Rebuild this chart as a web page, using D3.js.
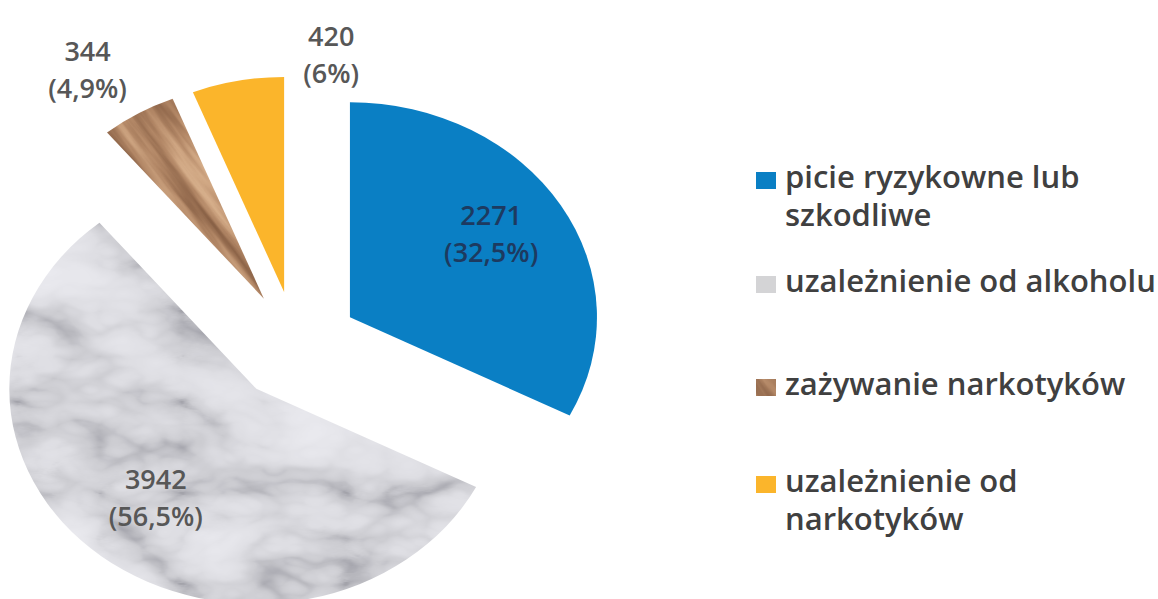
<!DOCTYPE html>
<html>
<head>
<meta charset="utf-8">
<script src="https://d3js.org/d3.v7.min.js"></script>
<style>
  body { margin: 0; background: #fff; }
  svg { display: block; }
  text { font-family: "Open Sans", "DejaVu Sans", sans-serif; }
</style>
</head>
<body>
<div id="chart"></div>
<script>
// data
var categories = ["picie ryzykowne lub szkodliwe", "uzależnienie od alkoholu", "zażywanie narkotyków", "uzależnienie od narkotyków"];
var values = [2271, 3942, 344, 420];
var pctLabels = ["32,5%", "56,5%", "4,9%", "6%"];
var legendLines = [["picie ryzykowne lub", "szkodliwe"], ["uzależnienie od alkoholu"], ["zażywanie narkotyków"], ["uzależnienie od", "narkotyków"]];

var width = 1158, height = 599;
var cx = 296, cy = 346, R = 215, sx = 1.149, explode = 55;

var svg = d3.select("#chart").append("svg")
  .attr("width", width)
  .attr("height", height);

var defs = svg.append("defs");

// marble texture
var mf = defs.append("filter").attr("id", "marbleF")
  .attr("x", 0).attr("y", 0).attr("width", 1).attr("height", 1)
  .attr("color-interpolation-filters", "sRGB");
mf.append("feTurbulence").attr("type", "turbulence")
  .attr("baseFrequency", "0.007 0.011").attr("numOctaves", 4).attr("seed", 7);
mf.append("feColorMatrix").attr("type", "matrix")
  .attr("values", "1 0 0 0 0  1 0 0 0 0  1 0 0 0 0  0 0 0 0 1");
mf.append("feGaussianBlur").attr("stdDeviation", 0.7);
var mct = mf.append("feComponentTransfer");
["feFuncR", "feFuncG", "feFuncB"].forEach(function(f, i){
  mct.append(f).attr("type", "table")
    .attr("tableValues", ["0.64 0.80 0.87 0.90 0.92 0.93 0.94",
                          "0.64 0.80 0.87 0.90 0.92 0.93 0.94",
                          "0.67 0.82 0.89 0.92 0.94 0.95 0.95"][i]);
});

// wood texture
var wf = defs.append("filter").attr("id", "woodF")
  .attr("x", 0).attr("y", 0).attr("width", 1).attr("height", 1)
  .attr("color-interpolation-filters", "sRGB");
wf.append("feTurbulence").attr("type", "fractalNoise")
  .attr("baseFrequency", "0.006 0.08").attr("numOctaves", 4).attr("seed", 3);
wf.append("feColorMatrix").attr("type", "matrix")
  .attr("values", "1 0 0 0 0  1 0 0 0 0  1 0 0 0 0  0 0 0 0 1");
var wct = wf.append("feComponentTransfer");
wct.append("feFuncR").attr("type", "table").attr("tableValues", "0.40 0.56 0.70 0.82 0.90");
wct.append("feFuncG").attr("type", "table").attr("tableValues", "0.27 0.40 0.53 0.66 0.76");
wct.append("feFuncB").attr("type", "table").attr("tableValues", "0.19 0.29 0.40 0.52 0.62");

defs.append("pattern").attr("id", "marble")
  .attr("patternUnits", "userSpaceOnUse")
  .attr("x", -350).attr("y", -350).attr("width", 700).attr("height", 700)
  .append("rect").attr("width", 700).attr("height", 700)
  .attr("filter", "url(#marbleF)");

defs.append("pattern").attr("id", "wood")
  .attr("patternUnits", "userSpaceOnUse")
  .attr("patternTransform", "rotate(56)")
  .attr("x", -350).attr("y", -350).attr("width", 700).attr("height", 700)
  .append("rect").attr("width", 700).attr("height", 700)
  .attr("filter", "url(#woodF)");

var fills = ["#0a7fc4", "url(#marble)", "url(#wood)", "#fbb52b"];
var legendFills = ["#0a7fc4", "#d4d4d6", "url(#wood)", "#fbb52b"];
var labelColors = ["#1d3a60", "#575757", "#575757", "#575757"];

var pie = d3.pie().sort(null).value(function(d){ return d; });
var arcs = pie(values);
var arc = d3.arc().innerRadius(0).outerRadius(R);

var g = svg.append("g")
  .attr("transform", "translate(" + cx + "," + cy + ") scale(" + sx + ",1)");

g.selectAll("path.slice")
  .data(arcs).enter().append("path")
  .attr("class", "slice")
  .attr("transform", function(d){
    var a = (d.startAngle + d.endAngle) / 2;
    return "translate(" + (explode * Math.sin(a)) + "," + (-explode * Math.cos(a)) + ")";
  })
  .attr("d", arc)
  .attr("fill", function(d, i){ return fills[i]; });

// data labels: inside for big slices, outside for the thin ones
var labelR = [199, 201, 324, 285];
var labelShift = [0, -1.5, -3.5, 17];

var labels = svg.selectAll("g.dl")
  .data(arcs).enter().append("g")
  .attr("class", "dl")
  .attr("transform", function(d, i){
    var a = (d.startAngle + d.endAngle) / 2 + labelShift[i] * Math.PI / 180;
    var x = cx + sx * labelR[i] * Math.sin(a);
    var y = cy - labelR[i] * Math.cos(a);
    return "translate(" + x + "," + y + ")";
  });
labels.append("text")
  .attr("text-anchor", "middle")
  .attr("font-size", 27)
  .attr("font-weight", 600)
  .attr("fill", function(d, i){ return labelColors[i]; })
  .attr("y", -17)
  .text(function(d){ return d.data; });
labels.append("text")
  .attr("text-anchor", "middle")
  .attr("font-size", 27)
  .attr("font-weight", 600)
  .attr("fill", function(d, i){ return labelColors[i]; })
  .attr("y", 20)
  .text(function(d, i){ return "(" + pctLabels[i] + ")"; });

// legend
var legendTop = [188, 292, 395, 492];
var legend = svg.selectAll("g.leg")
  .data(categories).enter().append("g")
  .attr("class", "leg")
  .attr("transform", function(d, i){ return "translate(756," + legendTop[i] + ")"; });

legend.append("rect")
  .attr("x", 0).attr("y", -16)
  .attr("width", 20).attr("height", 17)
  .attr("fill", function(d, i){ return legendFills[i]; });

legend.append("text")
  .attr("font-size", 31)
  .attr("font-weight", 600)
  .attr("fill", "#404040")
  .selectAll("tspan")
  .data(function(d, i){ return legendLines[i]; })
  .enter().append("tspan")
  .attr("x", 29)
  .attr("y", function(d, j){ return j * 38; })
  .text(function(d){ return d; });
</script>
</body>
</html>
